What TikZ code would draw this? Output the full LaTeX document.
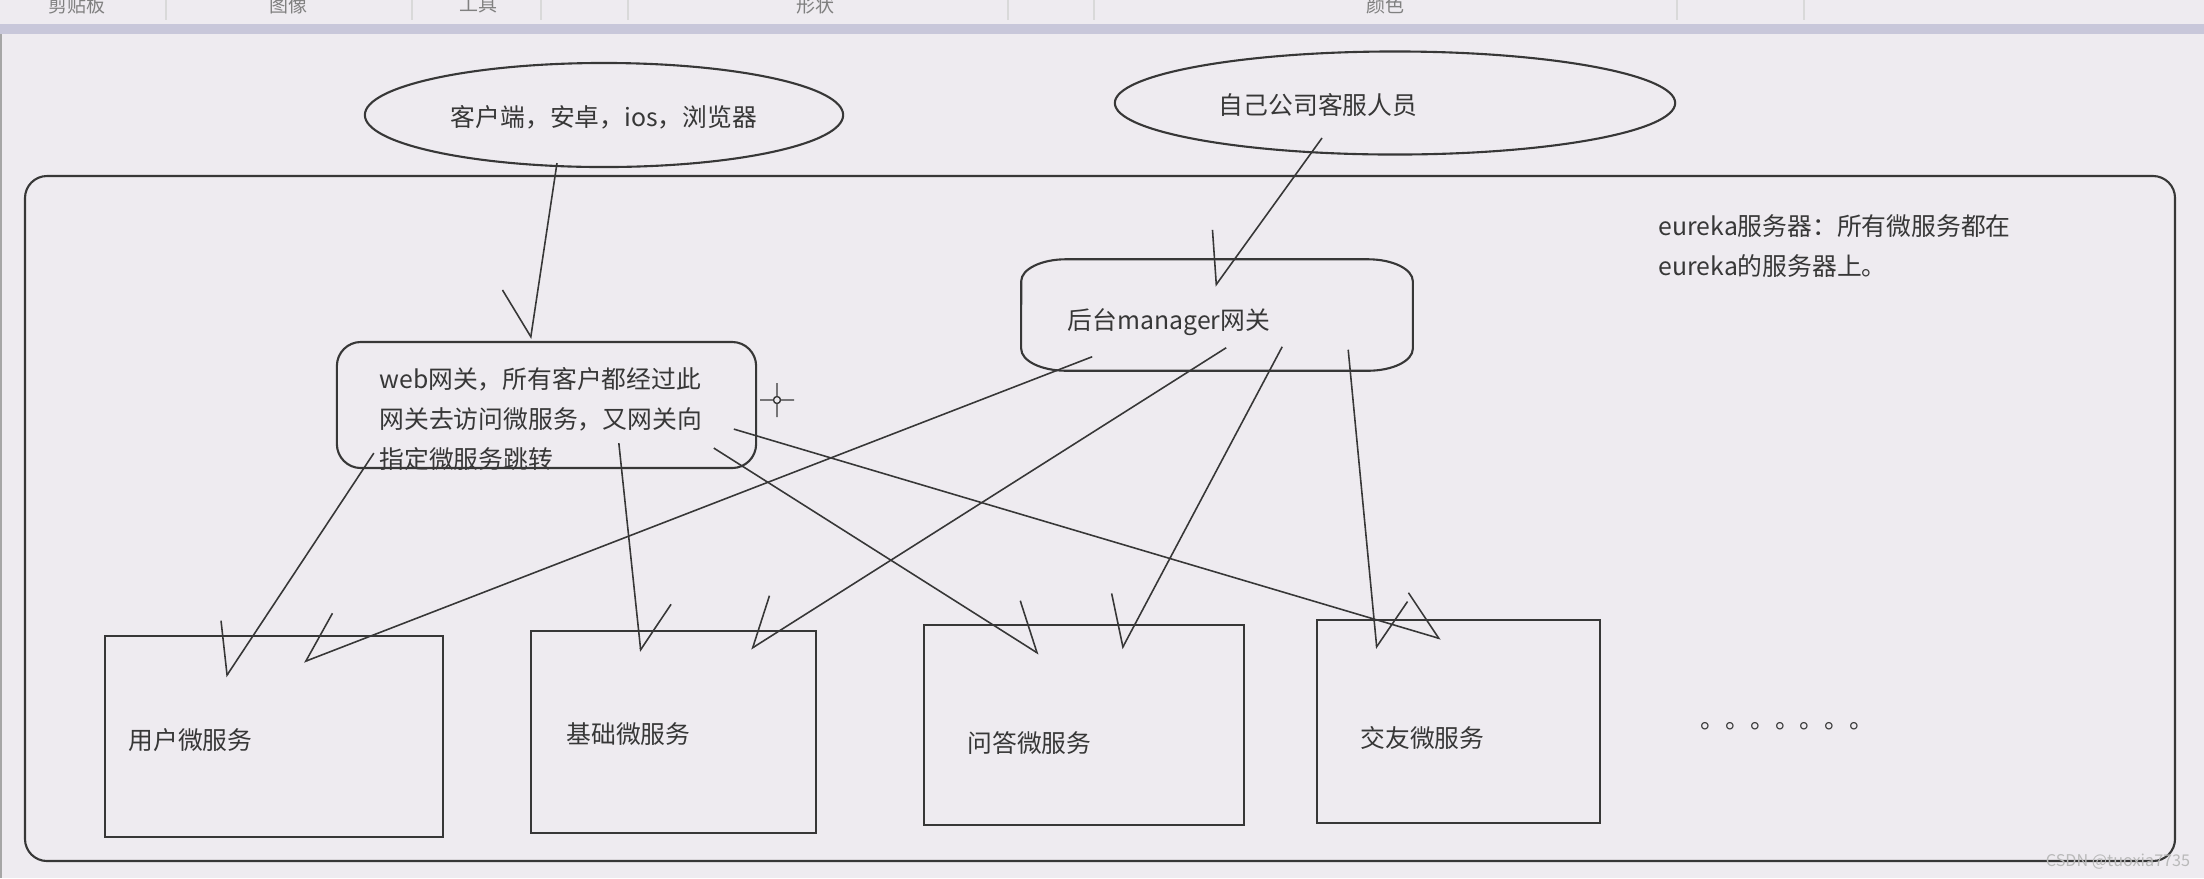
\documentclass[tikz,border=0pt]{standalone}
\usepackage{fontspec}
\newfontfamily\cjk{Noto Sans CJK SC}
\usetikzlibrary{shapes.geometric,arrows.meta}
\definecolor{canvas}{RGB}{238,235,240}
\definecolor{bar}{RGB}{200,199,218}
\definecolor{ink}{RGB}{55,55,55}
\tikzset{
	txt/.style={font=\cjk\fontsize{7.05}{11.4}\selectfont,text=ink,inner sep=0pt},
	box/.style={draw=ink,line width=0.6pt,inner sep=0pt},
	oval/.style={box,ellipse},
	link/.style={draw=ink,line width=0.45pt,-{Straight Barb[harpoon,length=0.42cm,width=0.7cm]}},
	linkr/.style={draw=ink,line width=0.45pt,-{Straight Barb[harpoon,swap,length=0.42cm,width=0.7cm]}}
}
\begin{document}
\begin{tikzpicture}[x=0.01cm,y=-0.01cm]
	\fill[canvas] (0,0) rectangle (2204,878);
	\useasboundingbox (0,0) rectangle (2204,878);
	\fill[bar] (0,24) rectangle (2204,34);
	\draw[gray!70] (1,34) -- (1,878);
	\foreach \x in {166,412,541,628,1008,1094,1677,1804}
		\draw[gray!30] (\x,0) -- (\x,20);
	\begin{scope}
		\clip (0,0) rectangle (2204,18);
		\foreach \x/\t in {77/剪贴板,288/图像,478/工具,815/形状,1385/颜色}
			\node[txt,font=\cjk\fontsize{5.4}{6}\selectfont,text=gray] (tool\x) at (\x,5) {\t};
	\end{scope}
	\draw[ink,line width=0.6pt,rounded corners=0.22cm] (25,176) rectangle (2175,861);
	\node[oval,minimum width=4.78cm,minimum height=1.04cm] (client) at (604,115) {};
	\node[txt] (clienttxt) at ([shift={(0,2)}]client.center) {客户端，安卓，ios，浏览器};
	\node[oval,minimum width=5.6cm,minimum height=1.03cm] (staff) at (1395,103) {};
	\node[txt] (stafftxt) at ([shift={(-77,2)}]staff.center) {自己公司客服人员};
	\node[box,rounded corners=0.24cm,minimum width=4.19cm,minimum height=1.26cm] (web) at (546.5,405) {};
	\node[txt,align=left,anchor=north west] (webtxt) at ([shift={(43,26)}]web.north west) {web网关，所有客户都经过此\\网关去访问微服务，又网关向\\指定微服务跳转};
	\node[inner sep=0pt,minimum width=3.9cm,minimum height=1.1cm] (mgr) at (1217,315) {};
	\draw[ink,line width=0.6pt] ([shift={(45,0)}]mgr.north west) -- ([shift={(-45,0)}]mgr.north east)
		arc[start angle=90,end angle=0,x radius=0.45cm,y radius=0.22cm] -- ([shift={(0,-22)}]mgr.south east)
		arc[start angle=0,end angle=-90,x radius=0.45cm,y radius=0.22cm] -- ([shift={(45,0)}]mgr.south west)
		arc[start angle=270,end angle=180,x radius=0.45cm,y radius=0.22cm] -- ([shift={(0,22)}]mgr.north west)
		arc[start angle=180,end angle=90,x radius=0.45cm,y radius=0.22cm] -- cycle;
	\node[txt,anchor=west] (mgrtxt) at ([shift={(46,7)}]mgr.west) {后台manager网关};
	\node[txt,align=left,anchor=north west] (eureka) at (1658,214) {eureka服务器：所有微服务都在\\eureka的服务器上。};
	\node[box,minimum width=3.38cm,minimum height=2.01cm] (usr) at (274,736.5) {};
	\node[txt,anchor=west] (usrtxt) at ([shift={(24,4)}]usr.west) {用户微服务};
	\node[box,minimum width=2.85cm,minimum height=2.02cm] (base) at (673.5,732) {};
	\node[txt,anchor=west] (basetxt) at ([shift={(36,2)}]base.west) {基础微服务};
	\node[box,minimum width=3.2cm,minimum height=2cm] (qa) at (1084,725) {};
	\node[txt,anchor=west] (qatxt) at ([shift={(44,18)}]qa.west) {问答微服务};
	\node[box,minimum width=2.83cm,minimum height=2.03cm] (friend) at (1458.5,721.5) {};
	\node[txt,anchor=west] (friendtxt) at ([shift={(44,16)}]friend.west) {交友微服务};
	\node[txt,anchor=base west] (more) at (1700,728) {。。。。。。。};
	\draw[ink,line width=0.4pt] (777,400) circle[radius=0.035cm] (760,400) -- (773,400) (781,400) -- (794,400) (777,383) -- (777,396) (777,404) -- (777,417);
	\draw[linkr] ([shift={(-47,-5)}]client.south) -- ([shift={(-16,-2)}]web.north);
	\draw[linkr] ([shift={(-73,35)}]staff.center) -- ([shift={(-2,27)}]mgr.north);
	\draw[linkr] ([shift={(38,-16)}]web.south west) -- ([shift={(122,42)}]usr.north west);
	\draw[link] ([shift={(283,-26)}]web.south west) -- ([shift={(111,22)}]base.north west);
	\draw[link] ([shift={(378,-21)}]web.south west) -- ([shift={(116,30)}]qa.north west);
	\draw[link] ([shift={(398,-40)}]web.south west) -- ([shift={(125,20)}]friend.north west);
	\draw[linkr] ([shift={(71,-14)}]mgr.south west) -- ([shift={(200,27)}]usr.north west);
	\draw[linkr] ([shift={(205,-23)}]mgr.south west) -- ([shift={(221,19)}]base.north west);
	\draw[linkr] ([shift={(261,-24)}]mgr.south west) -- ([shift={(199,25)}]qa.north west);
	\draw[link] ([shift={(327,-21)}]mgr.south west) -- ([shift={(61,30)}]friend.north west);
	\node[font=\cjk\fontsize{4.6}{5}\selectfont,text=gray!55] (mark) at (2118,862) {CSDN @tuoxia7735};
\end{tikzpicture}
\end{document}
